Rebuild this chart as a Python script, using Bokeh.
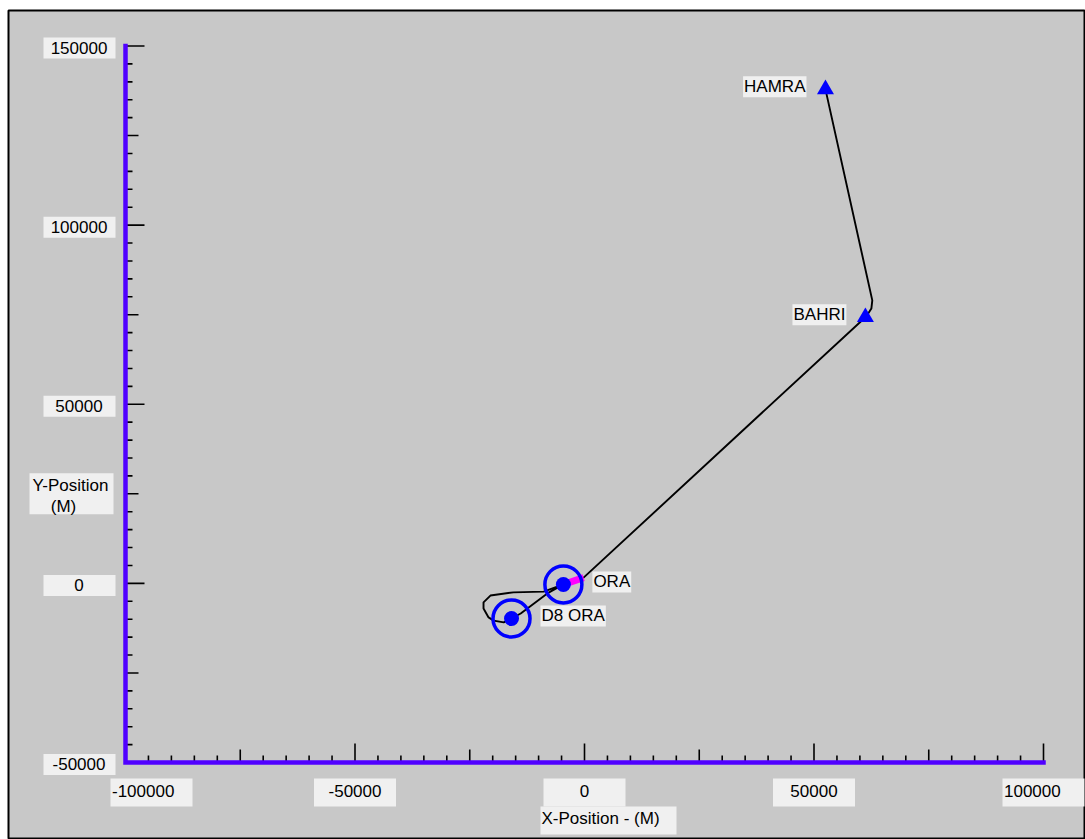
from bokeh.plotting import figure
from bokeh.models import Range1d
from bokeh.core.properties import value
from bokeh.embed import file_html
from bokeh.resources import INLINE

# ---- data -------------------------------------------------------------
station_names = ["HAMRA", "BAHRI", "ORA", "D8 ORA"]
station_x = [52500, 61200, -4600, -15900]
station_y = [137900, 74300, -300, -9800]
station_kind = ["triangle", "triangle", "ring", "ring"]
label_side = ["left", "left", "right", "right"]

# flown ground track (metres)
track_x = [52500, 62700, 62500, 61700, 61200, -200, -4600, -8900, -15500,
           -20500, -22000, -22000, -20900, -19800, -17600, -15900, -13900,
           -8100, -4600]
track_y = [137900, 79000, 76700, 75100, 74300, 1600, -300, -2300, -2500,
           -3400, -5300, -7000, -9500, -10400, -10900, -9800, -8400,
           -2800, -300]

# active leg out of ORA
leg_x = [-4600, -200]
leg_y = [-300, 1600]

x_ticks = [-100000, -50000, 0, 50000, 100000]
y_ticks = [-50000, 0, 50000, 100000, 150000]
x_tick_labels = ["-100000", "-50000", "0", "50000", "100000"]
y_tick_labels = ["-50000", "0", "50000", "100000", "150000"]
x_title = "X-Position - (M)"
y_title_lines = ["Y-Position", "(M)"]
y_title_at = 25000

# ---- geometry -----------------------------------------------------------
W, H = 1085, 839
FRAME_LEFT, FRAME_TOP = 8, 10
AX_LEFT_PX, AX_RIGHT_PX = 125, 1043
AX_TOP_PX, AX_BOTTOM_PX = 45.5, 762

X_MIN, X_MAX = x_ticks[0], x_ticks[-1]
Y_MIN, Y_MAX = y_ticks[0], y_ticks[-1]
ux = (X_MAX - X_MIN) / (AX_RIGHT_PX - AX_LEFT_PX)   # data units per pixel
uy = (Y_MAX - Y_MIN) / (AX_BOTTOM_PX - AX_TOP_PX)

x_range = Range1d(X_MIN - (AX_LEFT_PX - FRAME_LEFT) * ux, X_MAX + (W - AX_RIGHT_PX) * ux)
y_range = Range1d(Y_MIN - (H - AX_BOTTOM_PX) * uy, Y_MAX + (AX_TOP_PX - FRAME_TOP) * uy)

FONT = value("Liberation Sans")
FS = "17px"
AXIS_BLUE = "#5000ff"
BOX = "#f0f0f0"
BG = "#c8c8c8"

p = figure(width=W, height=H, x_range=x_range, y_range=y_range,
           x_axis_location=None, y_axis_location=None,
           toolbar_location=None, output_backend="svg",
           min_border_left=FRAME_LEFT, min_border_top=FRAME_TOP,
           min_border_right=0, min_border_bottom=0)
p.background_fill_color = BG
p.border_fill_color = "white"
p.outline_line_color = "black"
p.outline_line_width = 2
p.grid.grid_line_color = None

# ---- axes: ticks, spine, labels ------------------------------------------
MINOR, MID, MAJOR = 5000, 25000, 50000


def tick_len(t):
    if t % MAJOR == 0:
        return 19
    if t % MID == 0:
        return 13
    return 7


xt = list(range(X_MIN, X_MAX + 1, MINOR))
p.segment(x0=xt, y0=[Y_MIN] * len(xt), x1=xt,
          y1=[Y_MIN + tick_len(t) * uy for t in xt],
          line_color="black", line_width=1.6)
yt = list(range(Y_MIN, Y_MAX + 1, MINOR))
p.segment(x0=[X_MIN] * len(yt), y0=yt,
          x1=[X_MIN + tick_len(t) * ux for t in yt], y1=yt,
          line_color="black", line_width=1.6)

p.line([X_MIN, X_MIN, X_MAX], [Y_MAX, Y_MIN, Y_MIN], line_color=AXIS_BLUE,
       line_width=4.5, line_join="miter", line_cap="square")

# x tick labels in boxes
XBOX_W, XBOX_H = 82, 28
min_cx = X_MIN + (XBOX_W / 2 - 15) * ux
xbox_cx = [max(t, min_cx) for t in x_ticks]
p.rect(x=xbox_cx, y=[Y_MIN - 30 * uy] * len(x_ticks), width=XBOX_W, height=XBOX_H,
       width_units="screen", height_units="screen", fill_color=BOX, line_color=None)
n = len(x_ticks)
xlab_x, xlab_align = [], []
for i, (t, cx) in enumerate(zip(x_ticks, xbox_cx)):
    if i in (0, n - 1):
        xlab_x.append(cx - (XBOX_W / 2 - 1.5) * ux)
        xlab_align.append("left")
    else:
        xlab_x.append(t)
        xlab_align.append("center")
for xx, tx, al in zip(xlab_x, x_tick_labels, xlab_align):
    p.text(x=[xx], y=[Y_MIN - 28 * uy], text=[tx], text_font=FONT,
           text_font_size=FS, text_align=al, text_baseline="middle",
           text_color="black")

# y tick labels in boxes
p.rect(x=[X_MIN - 46 * ux] * len(y_ticks), y=[t - 2 * uy for t in y_ticks],
       width=72, height=21, width_units="screen", height_units="screen",
       fill_color=BOX, line_color=None)
p.text(x=[X_MIN - 46.5 * ux] * len(y_ticks), y=[t - 1.5 * uy for t in y_ticks],
       text=y_tick_labels, text_font=FONT, text_font_size=FS,
       text_align="center", text_baseline="middle", text_color="black")

# axis titles
p.rect(x=[X_MIN - 54 * ux], y=[y_title_at], width=84, height=41,
       width_units="screen", height_units="screen", fill_color=BOX, line_color=None)
p.text(x=[X_MIN - 55 * ux, X_MIN - 62 * ux],
       y=[y_title_at + 8 * uy, y_title_at - 13 * uy],
       text=y_title_lines, text_font=FONT, text_font_size=FS,
       text_align="center", text_baseline="middle", text_color="black")

p.rect(x=[24 * ux], y=[Y_MIN - 58 * uy], width=136, height=28,
       width_units="screen", height_units="screen", fill_color=BOX, line_color=None)
p.text(x=[-43 * ux], y=[Y_MIN - 56 * uy], text=[x_title], text_font=FONT,
       text_font_size=FS, text_align="left", text_baseline="middle",
       text_color="black")

# ---- track and waypoints -------------------------------------------------
p.line(track_x, track_y, line_color="black", line_width=1.9)
p.line(leg_x, leg_y, line_color="#ff00ff", line_width=7, line_cap="butt")

rx = [x for x, k in zip(station_x, station_kind) if k == "ring"]
ry = [y for y, k in zip(station_y, station_kind) if k == "ring"]
p.scatter(rx, ry, marker="circle", size=37, fill_color=None,
          line_color="#0000ff", line_width=3.5)
p.scatter(rx, ry, marker="circle", size=15, fill_color="#0000ff", line_color=None)

tx_ = [x for x, k in zip(station_x, station_kind) if k == "triangle"]
ty_ = [y for y, k in zip(station_y, station_kind) if k == "triangle"]
p.scatter(tx_, ty_, marker="triangle", size=17, fill_color="#0000ff", line_color=None)

for name, sx, sy, side in zip(station_names, station_x, station_y, label_side):
    if side == "left":
        lx, al = sx - 19 * ux, "right"
    else:
        lx, al = sx + 29 * ux, "left"
    p.text(x=[lx], y=[sy + 2.5 * uy], text=[name], text_font=FONT,
           text_font_size=FS, text_align=al, text_baseline="middle",
           text_color="black", background_fill_color=BOX, padding=1)

open("out.html", "w").write(file_html(p, INLINE))
